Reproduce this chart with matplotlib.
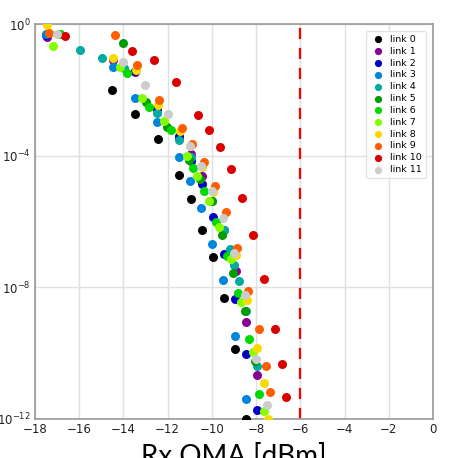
import numpy as np
import matplotlib
matplotlib.use("Agg")
import matplotlib.pyplot as plt

links = [f"link {i}" for i in range(12)]

# Rx OMA [dBm] and log10(BER) per link
x0 = [-14.5, -13.5, -12.45, -11.5, -10.95, -10.45, -9.95, -9.45, -8.95, -8.45]
y0 = [-2.00, -2.73, -3.49, -4.58, -5.31, -6.25, -7.07, -8.32, -9.87, -12.0]
x1 = [-17.46, -14.47, -13.48, -12.48, -11.49, -10.94, -10.45, -9.45, -8.91, -8.46, -7.96]
y1 = [-0.39, -1.09, -1.45, -2.54, -3.40, -3.94, -4.61, -6.25, -7.50, -9.05, -10.66]
x2 = [-17.5, -13.48, -12.48, -11.49, -10.94, -10.45, -9.95, -9.45, -8.95, -8.46, -7.96]
y2 = [-0.33, -1.42, -2.58, -3.43, -4.16, -4.85, -5.86, -6.98, -8.35, -10.02, -11.73]
x3 = [-17.5, -14.47, -13.48, -12.48, -11.49, -10.99, -10.49, -9.99, -9.50, -8.95, -8.46]
y3 = [-0.29, -1.30, -2.24, -2.97, -4.03, -4.76, -5.58, -6.68, -7.78, -9.47, -11.39]
x4 = [-15.96, -14.97, -13.97, -12.48, -11.49, -10.94, -9.99, -9.45, -9.18, -9.00, -8.77, -8.46, -7.96]
y4 = [-0.78, -1.02, -1.33, -2.70, -3.52, -4.03, -5.37, -6.25, -6.83, -7.32, -7.81, -8.71, -10.39]
x5 = [-16.87, -14.02, -12.98, -12.03, -11.03, -10.54, -9.99, -9.54, -9.04, -8.50, -8.05]
y5 = [-0.29, -0.57, -2.36, -3.12, -4.12, -4.70, -5.37, -6.40, -7.56, -8.71, -10.24]
x6 = [-16.87, -13.84, -12.84, -11.85, -10.85, -10.36, -9.81, -9.32, -8.82, -8.32, -7.87]
y6 = [-0.29, -1.48, -2.51, -3.21, -4.37, -5.07, -6.01, -7.04, -8.17, -9.56, -11.24]
x7 = [-17.19, -14.16, -13.16, -12.17, -11.13, -10.67, -10.13, -9.68, -9.14, -8.68, -8.14, -7.64]
y7 = [-0.66, -1.30, -2.24, -2.94, -4.00, -4.61, -5.37, -6.16, -7.13, -8.44, -9.96, -11.76]
x8 = [-17.46, -14.47, -13.43, -12.44, -11.44, -10.99, -10.45, -9.95, -8.91, -8.41, -7.96, -7.64, -7.46]
y8 = [-0.02, -1.02, -1.39, -2.45, -3.25, -3.72, -4.34, -5.10, -7.01, -8.38, -9.84, -10.90, -12.0]
x9 = [-17.37, -14.38, -13.39, -12.39, -11.35, -10.90, -10.36, -9.86, -9.36, -8.86, -8.37, -7.87, -7.55, -7.37]
y9 = [-0.26, -0.33, -1.24, -2.30, -3.15, -3.64, -4.19, -4.91, -5.70, -6.80, -8.11, -9.26, -10.39, -11.18]
x10 = [-16.64, -13.61, -12.62, -11.62, -10.63, -10.13, -9.63, -9.14, -8.64, -8.14, -7.64, -7.15, -6.83, -6.65]
y10 = [-0.36, -0.81, -1.09, -1.75, -2.76, -3.21, -3.73, -4.40, -5.28, -6.40, -7.74, -9.26, -10.33, -11.33]
x11 = [-17.00, -14.02, -13.02, -11.98, -10.99, -10.49, -9.99, -9.50, -9.00, -8.50, -8.00, -7.51]
y11 = [-0.29, -1.15, -1.84, -2.73, -3.70, -4.31, -5.07, -5.89, -6.95, -8.23, -10.17, -11.57]

xs = [x0, x1, x2, x3, x4, x5, x6, x7, x8, x9, x10, x11]
ys = [y0, y1, y2, y3, y4, y5, y6, y7, y8, y9, y10, y11]

threshold = -6
xticks = [-18, -16, -14, -12, -10, -8, -6, -4, -2, 0]
yticks = [1e-12, 1e-8, 1e-4, 1e0]

fig = plt.figure(figsize=(4.77, 4.58), dpi=100)
ax = fig.add_axes([35/477, 1-419/458, (433-35)/477, (419-24)/458])

colors = plt.cm.nipy_spectral(np.linspace(0, 1, len(links)))
for lab, xv, yv, c in zip(links, xs, ys, colors):
    ax.scatter(xv, 10.0**np.array(yv), s=42, color=c, label=lab, zorder=3,
               linewidths=0)

ax.axvline(threshold, color='red', linestyle=(0, (5, 4)), linewidth=1.6, zorder=2)

ax.set_yscale('log')
ax.set_xlim(-18, 0)
ax.set_ylim(1e-12, 1e0)
ax.set_xticks(xticks)
ax.set_yticks(yticks)
ax.minorticks_off()
ax.tick_params(axis='both', length=0, labelsize=8.5, colors='#222222', pad=3)
ax.grid(True, color='#e0e0e0', linewidth=1)
ax.set_axisbelow(True)
for s in ax.spines.values():
    s.set_color('#999999')
    s.set_linewidth(1.2)

ax.set_xlabel('Rx OMA [dBm]', fontsize=20, labelpad=5, family='Lato')
ax.set_ylabel('BER', fontsize=21, labelpad=2, family='Lato')

leg = ax.legend(loc='upper right', fontsize=6.8, frameon=True, borderpad=0.45,
                handletextpad=0.5, labelspacing=0.3, markerscale=0.8,
                handlelength=1.6, bbox_to_anchor=(0.995, 0.995))
leg.get_frame().set_edgecolor('#dddddd')

fig.savefig('out.png', dpi=100)
